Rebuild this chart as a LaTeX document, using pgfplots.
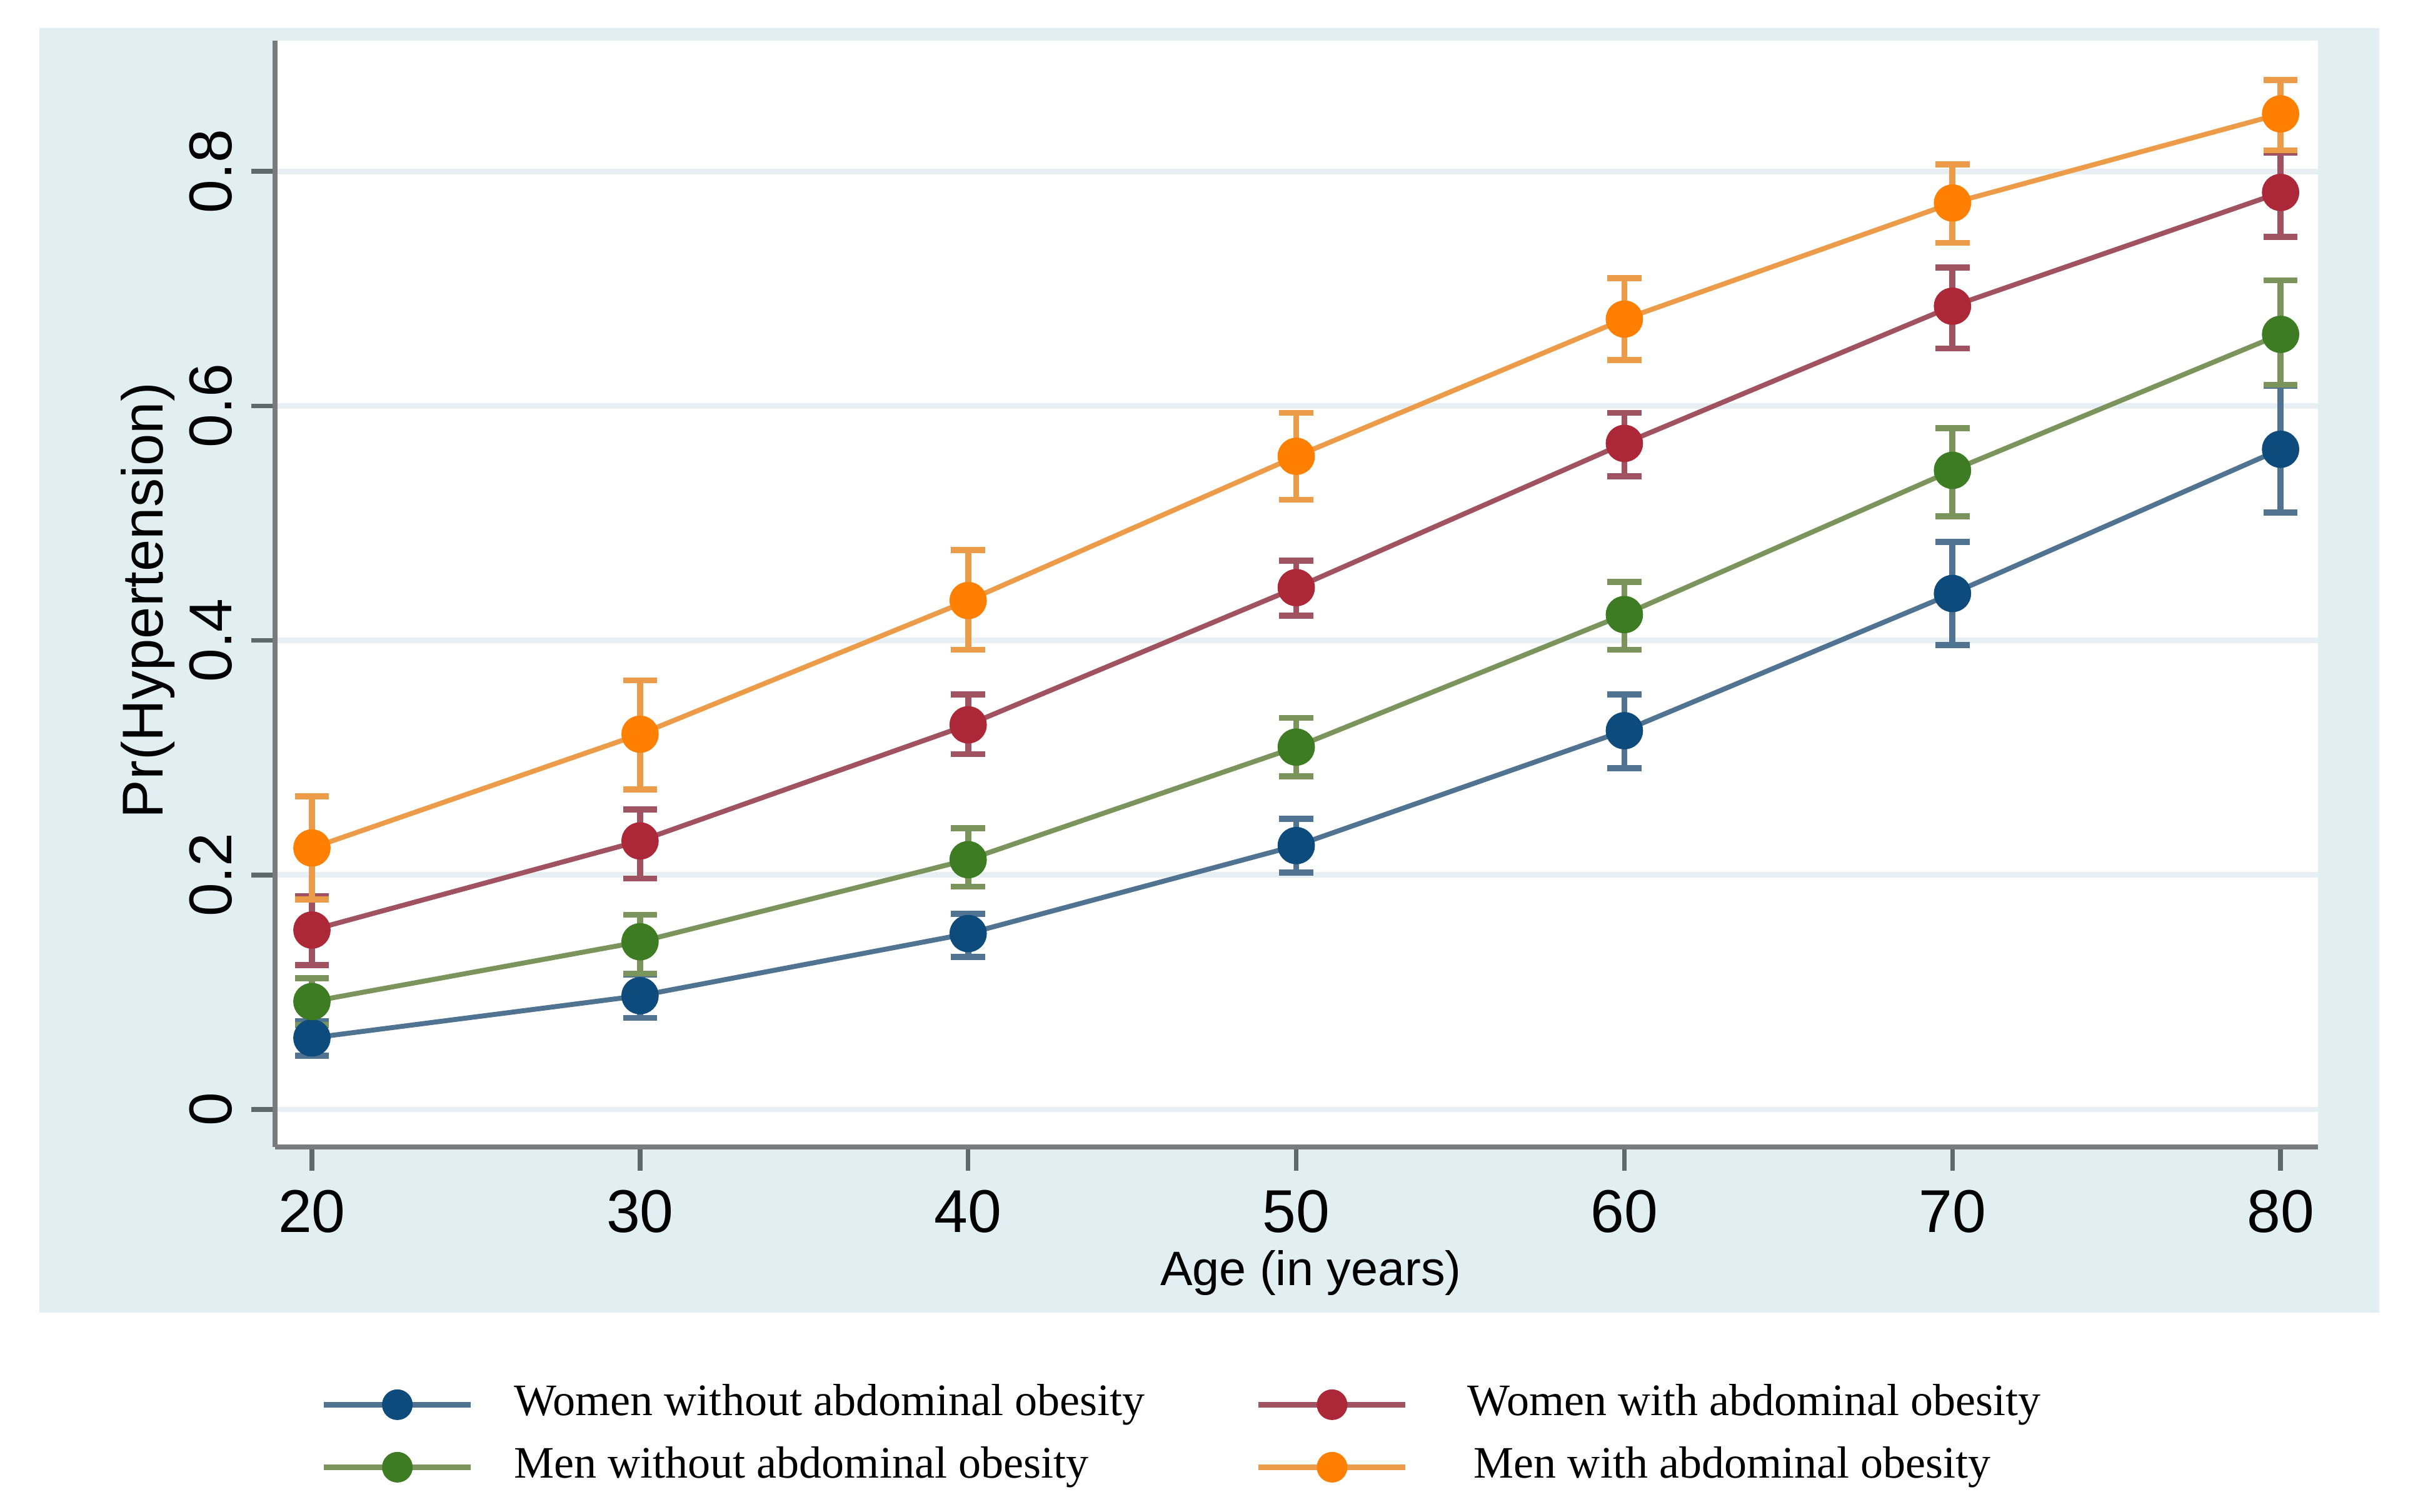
\documentclass[border=0pt]{standalone}
\usepackage{fontspec}
\setmainfont{Liberation Sans}
\newfontfamily\legendfont{Liberation Serif}
\usepackage{pgfplots}
\usepackage{pgfplotstable}
\pgfplotsset{compat=1.18}

\definecolor{panel}{RGB}{225,239,243}
\definecolor{gridc}{RGB}{232,239,242}
\definecolor{axisc}{RGB}{120,122,126}
\definecolor{tickc}{RGB}{95,105,108}
% marker colours
\definecolor{mblue}{RGB}{14,75,125}
\definecolor{mred}{RGB}{172,40,56}
\definecolor{mgreen}{RGB}{62,124,35}
\definecolor{morange}{RGB}{255,128,0}
% line / CI colours (lighter)
\definecolor{lblue}{RGB}{80,115,145}
\definecolor{lred}{RGB}{160,82,96}
\definecolor{lgreen}{RGB}{122,148,92}
\definecolor{lorange}{RGB}{236,156,72}

% x = age, y = Pr(Hypertension), lo/hi = 95% CI
\pgfplotstableread{
x  y     lo    hi
20 0.061 0.046 0.075
30 0.097 0.078 0.115
40 0.150 0.130 0.167
50 0.225 0.202 0.248
60 0.323 0.291 0.354
70 0.440 0.396 0.484
80 0.563 0.509 0.617
}\womenwo
\pgfplotstableread{
x  y     lo    hi
20 0.153 0.123 0.182
30 0.229 0.197 0.256
40 0.328 0.303 0.354
50 0.445 0.421 0.468
60 0.568 0.540 0.594
70 0.685 0.649 0.718
80 0.782 0.744 0.816
}\womenw
\pgfplotstableread{
x  y     lo    hi
20 0.092 0.072 0.112
30 0.143 0.116 0.166
40 0.213 0.190 0.240
50 0.309 0.284 0.334
60 0.422 0.392 0.450
70 0.545 0.506 0.581
80 0.661 0.618 0.707
}\menwo
\pgfplotstableread{
x  y     lo    hi
20 0.223 0.179 0.267
30 0.320 0.273 0.366
40 0.434 0.392 0.477
50 0.557 0.520 0.594
60 0.674 0.639 0.709
70 0.773 0.739 0.806
80 0.849 0.818 0.878
}\menw

\pgfplotsset{
  ci/.style={
    color=#1, line width=0.9pt, mark=*, mark size=2.95pt,
    error bars/.cd, y dir=both, y explicit,
    error bar style={color=#1, line width=1.1pt},
    error mark options={rotate=90, color=#1, line width=1.1pt, mark size=3.1pt},
    /pgfplots/.cd,
  },
}

\begin{document}
\begin{tikzpicture}
\fill[white, use as bounding box] (-17.6mm,-23.32mm) rectangle (137.12mm,73.4mm);
\fill[panel] (-15.08mm,-10.6mm) rectangle (134.64mm,71.6mm);
\begin{axis}[
  at={(0,0)}, anchor=south west,
  scale only axis, width=130.72mm, height=70.8mm,
  xmin=18.876, xmax=81.14, ymin=-0.032, ymax=0.9115,
  axis x line*=bottom, axis y line*=left,
  axis line style={-, axisc, line width=0.35mm},
  axis background/.style={fill=white},
  xtick={20,30,40,50,60,70,80},
  ytick={0,0.2,0.4,0.6,0.8},
  tick align=outside, major tick length=1.5mm,
  tick style={tickc, line width=0.3mm},
  ymajorgrids, grid style={gridc, line width=0.35mm},
  /pgf/number format/assume math mode=true,
  yticklabel style={/pgf/number format/fixed, /pgf/number format/precision=1,
    rotate=90, anchor=south, font=\fontsize{11}{12}\selectfont},
  xticklabel style={font=\fontsize{11}{12}\selectfont},
  xlabel={Age (in years)},
  xlabel style={at={(axis description cs:0.507,-0.1141)}, anchor=center,
    font=\fontsize{8.8}{10}\selectfont},
  ylabel={Pr(Hypertension)},
  ylabel style={at={(axis description cs:-0.055,0.494)}, anchor=base, rotate=0,
    font=\fontsize{10.5}{12}\selectfont},
  legend columns=2,
  legend cell align=left,
  legend image code/.code={
    \draw[mark repeat=2, mark phase=2, #1, mark size=0.8mm, line width=0.36mm]
      plot coordinates {(0mm,0mm) (4.7mm,0mm) (9.4mm,0mm)};},
  legend style={at={(0.022,-0.2136)}, anchor=north west, draw=none, fill=none,
    inner sep=0pt, row sep=1.4mm,
    font=\legendfont\fontsize{8.2}{10}\selectfont,
    nodes={inner sep=0pt, text height=2mm, text depth=0.6mm},
    /tikz/every even column/.append style={column sep=7.1mm}},
]
\addplot[ci=lblue, mark options={fill=mblue, draw=mblue}]
  table[x=x, y=y, y error plus expr=\thisrow{hi}-\thisrow{y},
        y error minus expr=\thisrow{y}-\thisrow{lo}] {\womenwo};
\addlegendentry{\hspace*{2.6mm}Women without abdominal obesity}
\addplot[ci=lred, mark options={fill=mred, draw=mred}]
  table[x=x, y=y, y error plus expr=\thisrow{hi}-\thisrow{y},
        y error minus expr=\thisrow{y}-\thisrow{lo}] {\womenw};
\addlegendentry{\hspace*{3.8mm}Women with abdominal obesity}
\addplot[ci=lgreen, mark options={fill=mgreen, draw=mgreen}]
  table[x=x, y=y, y error plus expr=\thisrow{hi}-\thisrow{y},
        y error minus expr=\thisrow{y}-\thisrow{lo}] {\menwo};
\addlegendentry{\hspace*{2.6mm}Men without abdominal obesity}
\addplot[ci=lorange, mark options={fill=morange, draw=morange}]
  table[x=x, y=y, y error plus expr=\thisrow{hi}-\thisrow{y},
        y error minus expr=\thisrow{y}-\thisrow{lo}] {\menw};
\addlegendentry{\hspace*{4.2mm}Men with abdominal obesity}
\end{axis}
\end{tikzpicture}
\end{document}
